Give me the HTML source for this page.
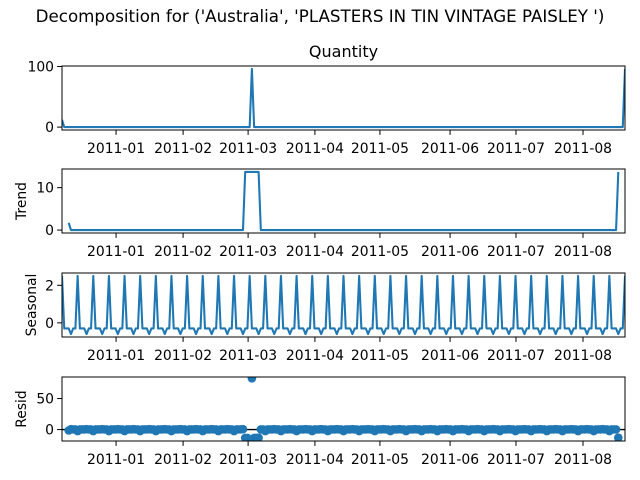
<!DOCTYPE html>
<html><head><meta charset="utf-8"><style>
html,body{margin:0;padding:0;background:#fff}
svg{display:block;font-family:"DejaVu Sans","Liberation Sans",sans-serif}
</style></head><body>
<svg id="chart" width="640" height="480" viewBox="0 0 640 480" xmlns="http://www.w3.org/2000/svg">
<text x="320" y="22" text-anchor="middle" font-size="16.7">Decomposition for ('Australia', 'PLASTERS IN TIN VINTAGE PAISLEY ')</text>
</svg>
<script>
// ---- data ----
const nPoints = 253;
const tickLabels = ['2011-01','2011-02','2011-03','2011-04','2011-05','2011-06','2011-07','2011-08'];
const tickIdx = [24.2, 54.2, 83.3, 113.2, 142.3, 173.7, 203.2, 233.2];
const obsNonzeroIdx = [0, 85, 252];
const obsNonzeroVal = [12, 96, 96];
const seasonalPattern = [2.5, -0.3, -0.3, -0.3, -0.6, -0.3, -0.3];
const period = 7;
// ---- derived series ----
const observed = new Array(nPoints).fill(0);
obsNonzeroIdx.forEach((i,k)=>observed[i]=obsNonzeroVal[k]);
const trend = observed.map((v,i)=>{
  if(i<3||i>nPoints-4) return null;
  let s=0; for(let j=i-3;j<=i+3;j++) s+=observed[j]; return s/7;
});
const seasonal = observed.map((v,i)=>seasonalPattern[i%period]);
const resid = observed.map((v,i)=>trend[i]===null?null:v-trend[i]-seasonal[i]);

const NS="http://www.w3.org/2000/svg";
const svg=document.getElementById('chart');
const X0=62,X1=625;
const xs=i=>X0+(X1-X0)*i/(nPoints-1);
function el(t,a,p){const e=document.createElementNS(NS,t);for(const k in a)e.setAttribute(k,a[k]);(p||svg).appendChild(e);return e;}

const panels=[
 {key:'quantity',data:observed,top:66,ymin:-4.8,ymax:100.8,ticks:[0,100],label:null,title:'Quantity'},
 {key:'trend',data:trend,top:169,ymin:-0.69,ymax:14.4,ticks:[0,10],label:'Trend',lx:26},
 {key:'seasonal',data:seasonal,top:273,ymin:-0.755,ymax:2.655,ticks:[0,2],label:'Seasonal',lx:36},
 {key:'resid',data:resid,top:377,ymin:-18.4,ymax:84.7,ticks:[0,50],label:'Resid',lx:26,dots:true}
];
const H=64;
panels.forEach((p,pi)=>{
  const g=el('g',{});
  
  
  const ys=v=>p.top+H-(v-p.ymin)/(p.ymax-p.ymin)*H;
  const cid='clip'+pi;
  const cp=el('clipPath',{id:cid},g);
  el('rect',{x:X0,y:p.top,width:X1-X0,height:H},cp);
  const dg=el('g',{'clip-path':'url(#'+cid+')'},g);
  if(p.dots){
    const zl=el('line',{x1:X0,x2:X1,y1:ys(0),y2:ys(0),stroke:'#000','stroke-width':1.4},dg);
    
    
    p.data.forEach((v,i)=>{ if(v===null) return;
      const c=el('circle',{cx:xs(i),cy:ys(v),r:4.3,fill:'#1f77b4'},dg);
      
      
    });
  } else {
    let d='',pen=false;
    p.data.forEach((v,i)=>{ if(v===null){pen=false;return;}
      d+=(pen?'L':'M')+xs(i).toFixed(2)+','+ys(v).toFixed(2); pen=true;});
    const path=el('path',{d:d,fill:'none',stroke:'#1f77b4','stroke-width':2.08,'stroke-linejoin':'round'},dg);
    
    
  }
  const fr=el('rect',{x:X0,y:p.top,width:X1-X0,height:H,fill:'none',stroke:'#000','stroke-width':1},g);
  
  
  p.ticks.forEach(t=>{
    const y=ys(t);
    el('line',{x1:X0-4.9,x2:X0,y1:y,y2:y,stroke:'#000','stroke-width':1},g);
    const tx=el('text',{x:X0-8,y:y+5,'text-anchor':'end','font-size':13.9},g);
    tx.textContent=t;
    
    
  });
  tickIdx.forEach((ti,k)=>{
    const x=xs(ti);
    el('line',{x1:x,x2:x,y1:p.top+H,y2:p.top+H+4.9,stroke:'#000','stroke-width':1},g);
    const tx=el('text',{x:x,y:p.top+H+23,'text-anchor':'middle','font-size':13.9},g);
    tx.textContent=tickLabels[k];
    
    
  });
  if(p.label){
    const cy=p.top+H/2;
    const lb=el('text',{x:p.lx,y:cy,'text-anchor':'middle','font-size':13.9,transform:'rotate(-90 '+p.lx+' '+cy+')'},g);
    lb.textContent=p.label;
    
    
  }
  if(p.title){
    const tt=el('text',{x:(X0+X1)/2,y:p.top-9,'text-anchor':'middle','font-size':16},g);
    tt.textContent=p.title;
    
    
  }
});
</script>
</body></html>
